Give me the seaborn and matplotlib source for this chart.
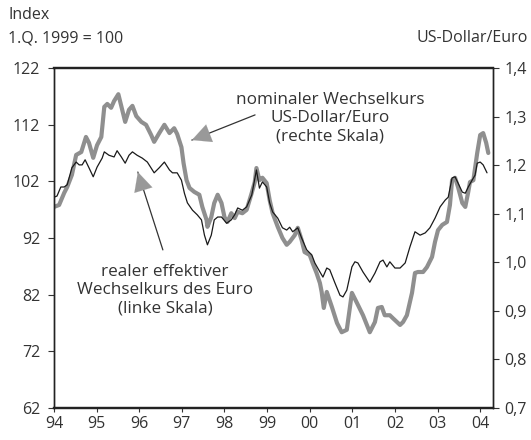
import matplotlib
matplotlib.use("Agg")
import matplotlib.pyplot as plt
import seaborn as sns
import pandas as pd

# realer effektiver Wechselkurs des Euro (linke Skala), Index 1.Q. 1999 = 100
real_t = [1994.00, 1994.07, 1994.16, 1994.24, 1994.31, 1994.42, 1994.52, 1994.59, 1994.66, 1994.73,
          1994.82, 1994.92, 1995.01, 1995.13, 1995.18, 1995.29, 1995.41, 1995.48, 1995.58, 1995.67,
          1995.76, 1995.84, 1995.95, 1996.07, 1996.19, 1996.35, 1996.47, 1996.59, 1996.71, 1996.78,
          1996.89, 1996.99, 1997.06, 1997.13, 1997.25, 1997.36, 1997.46, 1997.53, 1997.60, 1997.69,
          1997.76, 1997.84, 1997.93, 1998.05, 1998.16, 1998.24, 1998.31, 1998.42, 1998.52, 1998.64,
          1998.75, 1998.82, 1998.89, 1998.99, 1999.06, 1999.13, 1999.25, 1999.36, 1999.46, 1999.53,
          1999.60, 1999.72, 1999.81, 1999.93, 2000.05, 2000.12, 2000.24, 2000.31, 2000.40, 2000.47,
          2000.59, 2000.71, 2000.78, 2000.87, 2000.99, 2001.06, 2001.13, 2001.25, 2001.41, 2001.53,
          2001.65, 2001.72, 2001.81, 2001.88, 2002.00, 2002.12, 2002.24, 2002.35, 2002.47, 2002.59,
          2002.71, 2002.82, 2002.94, 2003.06, 2003.18, 2003.25, 2003.34, 2003.41, 2003.48, 2003.58,
          2003.65, 2003.72, 2003.81, 2003.88, 2003.93, 2004.00, 2004.07, 2004.16]
real_v = [99.2, 99.4, 101.0, 101.0, 101.4, 104.4, 105.4, 104.9, 104.9, 105.8,
          104.4, 102.8, 104.5, 106.1, 107.2, 106.6, 106.3, 107.4, 106.3, 105.2,
          106.6, 107.2, 106.6, 106.1, 105.4, 103.5, 104.4, 105.4, 104.0, 103.5,
          103.5, 102.2, 99.9, 98.2, 96.9, 96.1, 95.2, 92.5, 90.8, 92.5,
          95.2, 95.7, 95.7, 94.6, 95.2, 96.1, 97.3, 96.9, 97.5, 99.6,
          104.0, 100.8, 101.9, 101.0, 98.2, 96.6, 95.5, 93.8, 93.4, 93.9,
          93.1, 93.8, 92.0, 89.9, 89.0, 87.6, 86.0, 85.1, 86.7, 86.4,
          84.1, 81.9, 81.6, 82.8, 86.9, 87.8, 87.6, 86.0, 84.2, 85.8,
          87.8, 88.1, 86.9, 87.8, 86.7, 86.7, 87.6, 90.4, 93.1, 92.5,
          92.9, 93.8, 95.5, 97.5, 98.7, 99.2, 102.6, 102.8, 101.7, 100.1,
          99.9, 101.0, 102.2, 103.1, 105.2, 105.4, 104.9, 103.5]

# nominaler Wechselkurs US-Dollar/Euro (rechte Skala)
nom_t = [1994.00, 1994.12, 1994.24, 1994.31, 1994.42, 1994.52, 1994.64, 1994.75, 1994.82, 1994.92,
         1995.01, 1995.11, 1995.18, 1995.25, 1995.34, 1995.41, 1995.51, 1995.60, 1995.67, 1995.76,
         1995.84, 1995.93, 1996.05, 1996.16, 1996.28, 1996.35, 1996.47, 1996.59, 1996.71, 1996.82,
         1996.89, 1996.99, 1997.04, 1997.11, 1997.18, 1997.29, 1997.41, 1997.48, 1997.58, 1997.60,
         1997.69, 1997.76, 1997.84, 1997.93, 1998.00, 1998.07, 1998.16, 1998.24, 1998.31, 1998.42,
         1998.52, 1998.64, 1998.71, 1998.75, 1998.82, 1998.89, 1998.99, 1999.06, 1999.13, 1999.25,
         1999.36, 1999.46, 1999.53, 1999.65, 1999.72, 1999.81, 1999.88, 2000.00, 2000.07, 2000.16,
         2000.24, 2000.28, 2000.33, 2000.40, 2000.52, 2000.64, 2000.75, 2000.87, 2000.99, 2001.11,
         2001.25, 2001.41, 2001.53, 2001.60, 2001.69, 2001.76, 2001.88, 2001.95, 2002.12, 2002.19,
         2002.28, 2002.40, 2002.47, 2002.54, 2002.66, 2002.75, 2002.87, 2002.94, 2003.01, 2003.11,
         2003.22, 2003.29, 2003.34, 2003.41, 2003.48, 2003.58, 2003.65, 2003.72, 2003.76, 2003.84,
         2003.93, 2004.00, 2004.07, 2004.14, 2004.19]
nom_v = [1.114, 1.118, 1.143, 1.155, 1.180, 1.221, 1.227, 1.258, 1.246, 1.215,
         1.241, 1.258, 1.320, 1.326, 1.318, 1.332, 1.346, 1.314, 1.289, 1.314,
         1.322, 1.301, 1.289, 1.283, 1.262, 1.248, 1.266, 1.283, 1.266, 1.276,
         1.264, 1.237, 1.204, 1.169, 1.153, 1.145, 1.139, 1.114, 1.087, 1.073,
         1.093, 1.122, 1.139, 1.122, 1.093, 1.083, 1.101, 1.091, 1.104, 1.101,
         1.108, 1.143, 1.165, 1.194, 1.169, 1.174, 1.163, 1.128, 1.101, 1.073,
         1.050, 1.036, 1.042, 1.056, 1.071, 1.046, 1.021, 1.015, 0.998, 0.978,
         0.957, 0.939, 0.906, 0.939, 0.908, 0.875, 0.856, 0.861, 0.937, 0.916,
         0.891, 0.856, 0.877, 0.906, 0.908, 0.891, 0.891, 0.885, 0.871, 0.877,
         0.891, 0.937, 0.978, 0.980, 0.980, 0.990, 1.011, 1.042, 1.066, 1.077,
         1.083, 1.118, 1.169, 1.174, 1.155, 1.122, 1.114, 1.145, 1.165, 1.169,
         1.225, 1.262, 1.266, 1.246, 1.225]

year_ticks = list(range(1994, 2005))
year_labels = ["94", "95", "96", "97", "98", "99", "00", "01", "02", "03", "04"]
left_ticks = [62, 72, 82, 92, 102, 112, 122]
right_ticks = [0.7, 0.8, 0.9, 1.0, 1.1, 1.2, 1.3, 1.4]
right_labels = ["0,7", "0,8", "0,9", "1,0", "1,1", "1,2", "1,3", "1,4"]

sns.set_theme(style="white")
FONT = ["Open Sans", "DejaVu Sans"]
plt.rcParams["font.family"] = FONT
TXT = "#333333"

fig = plt.figure(figsize=(5.31, 4.40), dpi=100)
ax = fig.add_axes([0.1017, 0.0727, 0.8267, 0.7728])
ax2 = ax.twinx()

df_real = pd.DataFrame({"t": real_t, "v": real_v})
df_nom = pd.DataFrame({"t": nom_t, "v": nom_v})

sns.lineplot(data=df_nom, x="t", y="v", ax=ax2, color="#8f8f8f", linewidth=3.0,
             estimator=None, sort=False)
sns.lineplot(data=df_real, x="t", y="v", ax=ax, color="#1a1a1a", linewidth=0.9,
             estimator=None, sort=False)

ax.set_zorder(ax2.get_zorder() + 1)
ax.patch.set_visible(False)

ax.set_xlim(1994, 2004.3)
ax.set_ylim(62, 122)
ax2.set_ylim(0.7, 1.4)

ax.set_xticks(year_ticks)
ax.set_xticklabels(year_labels)
ax.set_yticks(left_ticks)
ax.set_yticklabels([str(v) for v in left_ticks])
ax2.set_yticks(right_ticks)
ax2.set_yticklabels(right_labels)

for a in (ax, ax2):
    a.set_xlabel("")
    a.set_ylabel("")
    a.grid(False)
    for s in a.spines.values():
        s.set_color("#222222")
        s.set_linewidth(1.0)
    a.spines["top"].set_linewidth(1.6)
    a.spines["bottom"].set_linewidth(1.6)

ax.tick_params(axis="y", which="both", left=True, direction="out", length=4, width=0.8,
               color="#333333", labelsize=11.5, labelcolor=TXT, pad=6)
ax.tick_params(axis="x", bottom=True, direction="out", length=3, width=0.8,
               color="#333333", labelsize=11.5, labelcolor=TXT, pad=3)
ax2.tick_params(axis="y", right=True, direction="out", length=4, width=0.8,
                color="#333333", labelsize=11.5, labelcolor=TXT, pad=4)

fig.text(8 / 531, 1 - 15 / 440, "Index", fontsize=11.5, color=TXT, va="center", ha="left")
fig.text(8 / 531, 1 - 38 / 440, "1.Q. 1999 = 100", fontsize=11.5, color=TXT, va="center", ha="left")
fig.text(528 / 531, 1 - 38 / 440, "US-Dollar/Euro", fontsize=11.5, color=TXT, va="center", ha="right")

ax.text(0.629, 0.853, "nominaler Wechselkurs\nUS-Dollar/Euro\n(rechte Skala)", transform=ax.transAxes,
        ha="center", va="center", fontsize=12.3, color=TXT, linespacing=1.2)
ax.text(0.253, 0.347, "realer effektiver\nWechselkurs des Euro\n(linke Skala)", transform=ax.transAxes,
        ha="center", va="center", fontsize=12.3, color=TXT, linespacing=1.2)

# arrows: thin dark shaft, grey filled head
def arrow(start, tip, back):
    ax.annotate("", xy=tip, xytext=start, xycoords="axes fraction", textcoords="axes fraction",
                arrowprops=dict(arrowstyle="-", color="#333333", lw=0.9, shrinkA=0, shrinkB=0))
    ax.annotate("", xy=tip, xytext=back, xycoords="axes fraction", textcoords="axes fraction",
                arrowprops=dict(arrowstyle="-|>,head_length=0.9,head_width=0.45", color="#999999",
                                lw=0.1, shrinkA=0, shrinkB=0, mutation_scale=15))

arrow((0.458, 0.862), (0.314, 0.788), (0.35, 0.806))
arrow((0.248, 0.465), (0.191, 0.694), (0.200, 0.656))

fig.savefig("out.png", dpi=100)
